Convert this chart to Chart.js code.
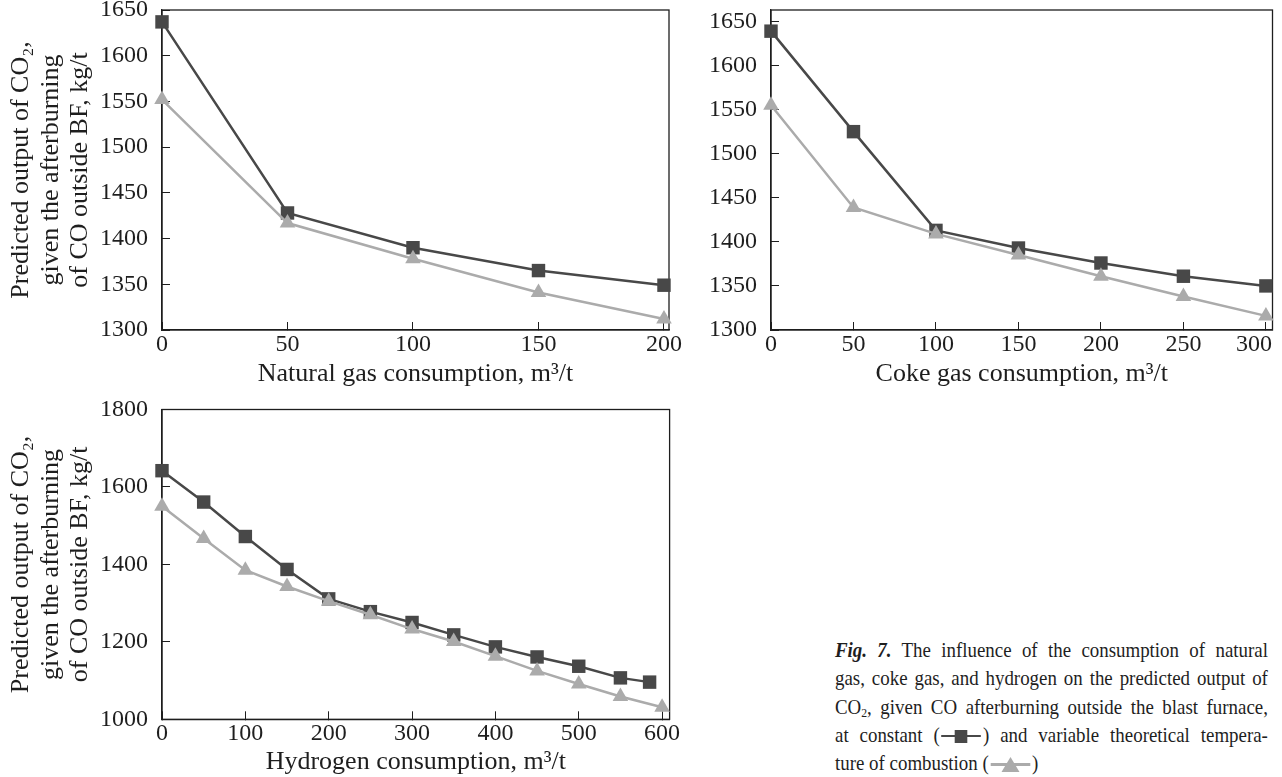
<!DOCTYPE html>
<html>
<head>
<meta charset="utf-8">
<script src="https://cdn.jsdelivr.net/npm/chart.js@4.4.1/dist/chart.umd.min.js"></script>
<style>
body { margin:0; background:#fff; width:1282px; height:777px; overflow:hidden; position:relative; font-family:"Liberation Serif", serif; color:#1e1e1e; }
canvas { position:absolute; }
#natural { left:0; top:0; }
#coke { left:690px; top:0; }
#hydrogen { left:0; top:395px; }
.caption { position:absolute; left:835px; top:636px; width:481px; font-size:21px; line-height:28.3px; transform:scaleX(0.9); transform-origin:0 0; }
.caption div { text-align:justify; text-align-last:justify; white-space:nowrap; }
.caption div.last { text-align-last:left; }
.caption sub { font-size:13px; line-height:0; vertical-align:-3px; }
.lg { display:inline-block; position:relative; width:48px; height:14px; vertical-align:-1px; }
.lg:before { content:""; position:absolute; left:2px; right:2px; top:6px; height:2.5px; }
.sq:before { background:#484848; }
.sq b { position:absolute; left:17px; top:1px; width:14px; height:13px; background:#484848; }
.tr:before { background:#ababab; }
.tr b { position:absolute; left:14px; top:0; width:0; height:0; border-left:10px solid transparent; border-right:10px solid transparent; border-bottom:15px solid #ababab; }
</style>
</head>
<body>
<canvas id="natural" width="688" height="392"></canvas>
<canvas id="coke" width="592" height="392"></canvas>
<canvas id="hydrogen" width="688" height="382"></canvas>

<div class="caption">
<div><b><i>Fig. 7.</i></b> The influence of the consumption of natural</div>
<div>gas, coke gas, and hydrogen on the predicted output of</div>
<div>CO<sub>2</sub>, given CO afterburning outside the blast furnace,</div>
<div>at constant (<span class="lg sq"><b></b></span>) and variable theoretical tempera-</div>
<div class="last">ture of combustion (<span class="lg tr"><b></b></span>)</div>
</div>

<script>
// consumption (m3/t) and predicted CO2 output (kg/t)
// natural gas
var ngX = [0, 50, 100, 150, 200];
var ngConst = [1637, 1428, 1390, 1365, 1349];
var ngVar = [1552, 1417, 1378, 1341, 1312];
var ngXTicks = [0, 50, 100, 150, 200];
var ngYTicks = [1300, 1350, 1400, 1450, 1500, 1550, 1600, 1650];

// coke gas
var cgX = [0, 50, 100, 150, 200, 250, 300];
var cgConst = [1639, 1525, 1413, 1393, 1376, 1361, 1350];
var cgVar = [1555, 1439, 1409, 1385, 1361, 1338, 1316];
var cgXTicks = [0, 50, 100, 150, 200, 250, 300];
var cgYTicks = [1300, 1350, 1400, 1450, 1500, 1550, 1600, 1650];

// hydrogen
var h2XConst = [0, 50, 100, 150, 200, 250, 300, 350, 400, 450, 500, 550, 585];
var h2Const = [1642, 1561, 1472, 1387, 1311, 1278, 1250, 1218, 1187, 1161, 1137, 1107, 1096];
var h2XVar = [0, 50, 100, 150, 200, 250, 300, 350, 400, 450, 500, 550, 600];
var h2Var = [1550, 1467, 1385, 1343, 1305, 1270, 1233, 1201, 1163, 1125, 1091, 1059, 1031];
var h2XTicks = [0, 100, 200, 300, 400, 500, 600];
var h2YTicks = [1000, 1200, 1400, 1600, 1800];

var yTitle = ["Predicted output of CO\u2082,", "given the afterburning", "of CO outside BF, kg/t"];

var darkGrey = "#484848";
var lightGrey = "#ababab";
var ink = "#1e1e1e";
var titleFont = {family: "'Liberation Serif', serif", size: 26, lineHeight: 1.12};

Chart.defaults.font.family = "'Liberation Serif', serif";
Chart.defaults.font.size = 24;
Chart.defaults.color = ink;

// box round the plot area
var framePlugin = {
    id: "frame",
    beforeDatasetsDraw: function(chart) {
        var a = chart.chartArea, ctx = chart.ctx;
        ctx.save();
        ctx.strokeStyle = ink;
        ctx.lineWidth = 1.3;
        ctx.strokeRect(a.left, a.top, a.right - a.left, a.bottom - a.top);
        ctx.restore();
    }
};

function points(xs, ys) {
    return xs.map(function(x, i) { return {x: x, y: ys[i]}; });
}

function tickList(values) {
    return function(scale) {
        scale.ticks = values.map(function(v) { return {value: v}; });
    };
}

function noPad(s) {
    s.paddingTop = 0; s.paddingBottom = 0; s.paddingLeft = 0; s.paddingRight = 0;
}

function drawPanel(id, p) {
    new Chart(document.getElementById(id), {
        type: "scatter",
        data: {
            datasets: [{
                data: points(p.xConst, p.yConst),
                showLine: true,
                borderColor: darkGrey,
                backgroundColor: darkGrey,
                borderWidth: 2.5,
                pointStyle: "rect",
                pointRadius: 9.5,
                pointHoverRadius: 9.5,
                pointBorderWidth: 0,
                order: 1,
                clip: false
            }, {
                data: points(p.xVar, p.yVar),
                showLine: true,
                borderColor: lightGrey,
                backgroundColor: lightGrey,
                borderWidth: 2.5,
                pointStyle: "triangle",
                pointRadius: 9,
                pointHoverRadius: 9,
                pointBorderWidth: 0,
                order: 0,
                clip: false
            }]
        },
        options: {
            responsive: false,
            animation: false,
            events: [],
            layout: {padding: p.pad},
            plugins: {legend: {display: false}, tooltip: {enabled: false}},
            scales: {
                x: {
                    type: "linear",
                    min: 0,
                    max: p.xMax,
                    afterBuildTicks: tickList(p.xTicks),
                    afterFit: function(s) { s.height = p.xH; noPad(s); },
                    grid: {drawOnChartArea: false, tickLength: -8, color: ink, lineWidth: 1},
                    border: {color: ink, width: 1.3},
                    ticks: {padding: 8, autoSkip: false, maxRotation: 0,
                            // last label pulled in a little when it sits on the page edge
                            callback: function(v) { return v === p.edgeTick ? String(v) + "\u2003" : String(v); }},
                    title: {display: true, text: p.xTitle, font: titleFont, padding: {top: 0, bottom: p.xTitlePad}}
                },
                y: {
                    type: "linear",
                    min: p.yMin,
                    max: p.yMax,
                    afterBuildTicks: tickList(p.yTicks),
                    afterFit: function(s) { s.width = p.yW; noPad(s); },
                    grid: {drawOnChartArea: false, tickLength: -8, color: ink, lineWidth: 1},
                    border: {color: ink, width: 1.3},
                    ticks: {padding: 22, autoSkip: false, callback: function(v) { return String(v); }},
                    title: p.yTitle ? {display: true, text: p.yTitle, font: titleFont, padding: {top: 7, bottom: 0}} : {display: false}
                }
            }
        },
        plugins: [framePlugin]
    });
}

drawPanel("natural", {
    xConst: ngX, yConst: ngConst, xVar: ngX, yVar: ngVar,
    xTicks: ngXTicks, yTicks: ngYTicks,
    xMax: 202, yMin: 1300, yMax: 1650,
    pad: {top: 10, right: 19, bottom: 0, left: 0},
    xH: 62, yW: 162, xTitlePad: 3.5,
    xTitle: "Natural gas consumption, m\u00b3/t",
    yTitle: yTitle
});

drawPanel("coke", {
    xConst: cgX, yConst: cgConst, xVar: cgX, yVar: cgVar,
    xTicks: cgXTicks, yTicks: cgYTicks,
    xMax: 304, yMin: 1300, yMax: 1663,
    pad: {top: 10, right: 3.4, bottom: 0, left: 0},
    xH: 62, yW: 81, xTitlePad: 3.5, edgeTick: 300,
    xTitle: "Coke gas consumption, m\u00b3/t",
    yTitle: null
});

drawPanel("hydrogen", {
    xConst: h2XConst, yConst: h2Const, xVar: h2XVar, yVar: h2Var,
    xTicks: h2XTicks, yTicks: h2YTicks,
    xMax: 609, yMin: 1000, yMax: 1800,
    pad: {top: 14.5, right: 18.4, bottom: 0, left: 0},
    xH: 57.7, yW: 162, xTitlePad: 0,
    xTitle: "Hydrogen consumption, m\u00b3/t",
    yTitle: yTitle
});
</script>
</body>
</html>
